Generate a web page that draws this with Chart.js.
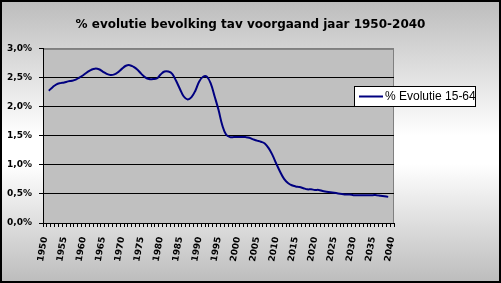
<!DOCTYPE html>
<html>
<head>
<meta charset="utf-8">
<script src="https://cdn.jsdelivr.net/npm/chart.js@4"></script>
<style>
  html, body { margin: 0; padding: 0; }
  #wrap {
    position: relative;
    width: 501px;
    height: 283px;
    background: linear-gradient(#bcbcbc 0%, #ffffff 48%, #ffffff 58%, #bcbcbc 100%);
  }
</style>
</head>
<body>
<div id="wrap"><canvas id="chart"></canvas></div>
<script>
// years 1950-2040
const years = [];
for (let y = 1950; y <= 2040; y++) years.push(String(y));

// % evolutie 15-64 (1950 and 2040 have no value)
const evolutie = [
  null, 2.28, 2.34, 2.39, 2.41, 2.42, 2.44, 2.45, 2.47, 2.51,
  2.55, 2.60, 2.64, 2.66, 2.65, 2.61, 2.57, 2.55, 2.56, 2.60,
  2.66, 2.71, 2.72, 2.69, 2.64, 2.57, 2.51, 2.48, 2.48, 2.49,
  2.56, 2.61, 2.61, 2.57, 2.45, 2.31, 2.18, 2.13, 2.17, 2.28,
  2.44, 2.52, 2.52, 2.40, 2.18, 1.95, 1.68, 1.52, 1.48, 1.48,
  1.48, 1.48, 1.48, 1.47, 1.44, 1.42, 1.40, 1.37, 1.29, 1.17,
  1.02, 0.88, 0.76, 0.69, 0.65, 0.63, 0.62, 0.60, 0.58, 0.58,
  0.57, 0.57, 0.55, 0.54, 0.53, 0.52, 0.51, 0.50, 0.49, 0.49,
  0.48, 0.48, 0.48, 0.48, 0.48, 0.48, 0.48, 0.47, 0.46, 0.45,
  null,
];

const yTicks = [0, 0.5, 1, 1.5, 2, 2.5, 3];

const seriesName = "% Evolutie 15-64";

// plot area fill + frame, legend box and outer border
const decor = {
  id: "decor",
  beforeDraw(chart) {
    const { ctx, chartArea: a } = chart;
    ctx.save();
    ctx.fillStyle = "#c0c0c0";
    ctx.fillRect(a.left, a.top, a.right - a.left, a.bottom - a.top);
    ctx.strokeStyle = "#808080";
    ctx.lineWidth = 1;
    ctx.strokeRect(a.left + 0.5, a.top + 0.5, a.right - a.left - 1, a.bottom - a.top);
    ctx.restore();
  },
  afterDraw(chart) {
    const ctx = chart.ctx;
    ctx.save();
    // legend
    ctx.fillStyle = "#ffffff";
    ctx.fillRect(354, 86, 122, 20);
    ctx.strokeStyle = "#000000";
    ctx.lineWidth = 1;
    ctx.strokeRect(354.5, 86.5, 121, 20);
    ctx.strokeStyle = "#000080";
    ctx.lineWidth = 2;
    ctx.beginPath();
    ctx.moveTo(359, 96.5);
    ctx.lineTo(383, 96.5);
    ctx.stroke();
    ctx.fillStyle = "#000000";
    ctx.font = "12px 'Liberation Sans', Arial, sans-serif";
    ctx.textBaseline = "middle";
    ctx.fillText(seriesName, 385, 97);
    // outer border
    ctx.strokeStyle = "#000000";
    ctx.lineWidth = 2;
    ctx.strokeRect(1, 1, chart.width - 2, chart.height - 2);
    ctx.restore();
  },
};

const tickFont = { family: "'DejaVu Sans', sans-serif", size: 9, weight: "bold" };

const ctx = document.getElementById("chart");
new Chart(ctx, {
  type: "line",
  data: {
    labels: years,
    datasets: [
      {
        label: seriesName,
        data: evolutie,
        borderColor: "#000080",
        borderWidth: 2,
        pointRadius: 0,
        tension: 0.4,
        fill: false,
      },
    ],
  },
  options: {
    responsive: true,
    maintainAspectRatio: false,
    animation: false,
    layout: {
      padding: 0,
    },
    plugins: {
      legend: { display: false },
      tooltip: { enabled: false },
      title: {
        display: true,
        text: "% evolutie bevolking tav voorgaand jaar 1950-2040",
        color: "#000000",
        padding: { top: 18, bottom: 16.5 },
        font: {
          family: "'DejaVu Sans', sans-serif",
          size: 12,
          weight: "bold",
          lineHeight: 1.2,
        },
      },
    },
    scales: {
      x: {
        offset: true,
        afterFit: (scale) => {
          scale.height = 60;
        },
        border: { color: "#000000", width: 1 },
        grid: {
          offset: true,
          drawOnChartArea: false,
          drawTicks: true,
          tickLength: 4,
          tickColor: "#000000",
        },
        ticks: {
          autoSkip: false,
          minRotation: 80,
          maxRotation: 80,
          padding: 9,
          color: "#000000",
          font: tickFont,
          callback: function (value, index) {
            const y = years[index];
            return Number(y) % 5 === 0 ? y : "";
          },
        },
      },
      y: {
        min: 0,
        max: 3,
        afterFit: (scale) => {
          scale.width = 43;
        },
        afterBuildTicks: (scale) => {
          scale.ticks = yTicks.map((v) => ({ value: v }));
        },
        border: { color: "#000000", width: 1 },
        grid: {
          color: (c) => (c.tick && c.tick.value === 3 ? "#808080" : "#000000"),
          tickColor: "#000000",
          tickLength: 4,
        },
        ticks: {
          padding: 7,
          color: "#000000",
          font: tickFont,
          callback: (v) => v.toFixed(1).replace(".", ",") + "%",
        },
      },
      // empty right-hand space where the legend sits
      side: {
        position: "right",
        min: 0,
        max: 3,
        afterFit: (scale) => {
          scale.width = 107;
        },
        border: { display: false },
        grid: { display: false },
        ticks: { display: false },
      },
    },
  },
  plugins: [decor],
});
</script>
</body>
</html>
